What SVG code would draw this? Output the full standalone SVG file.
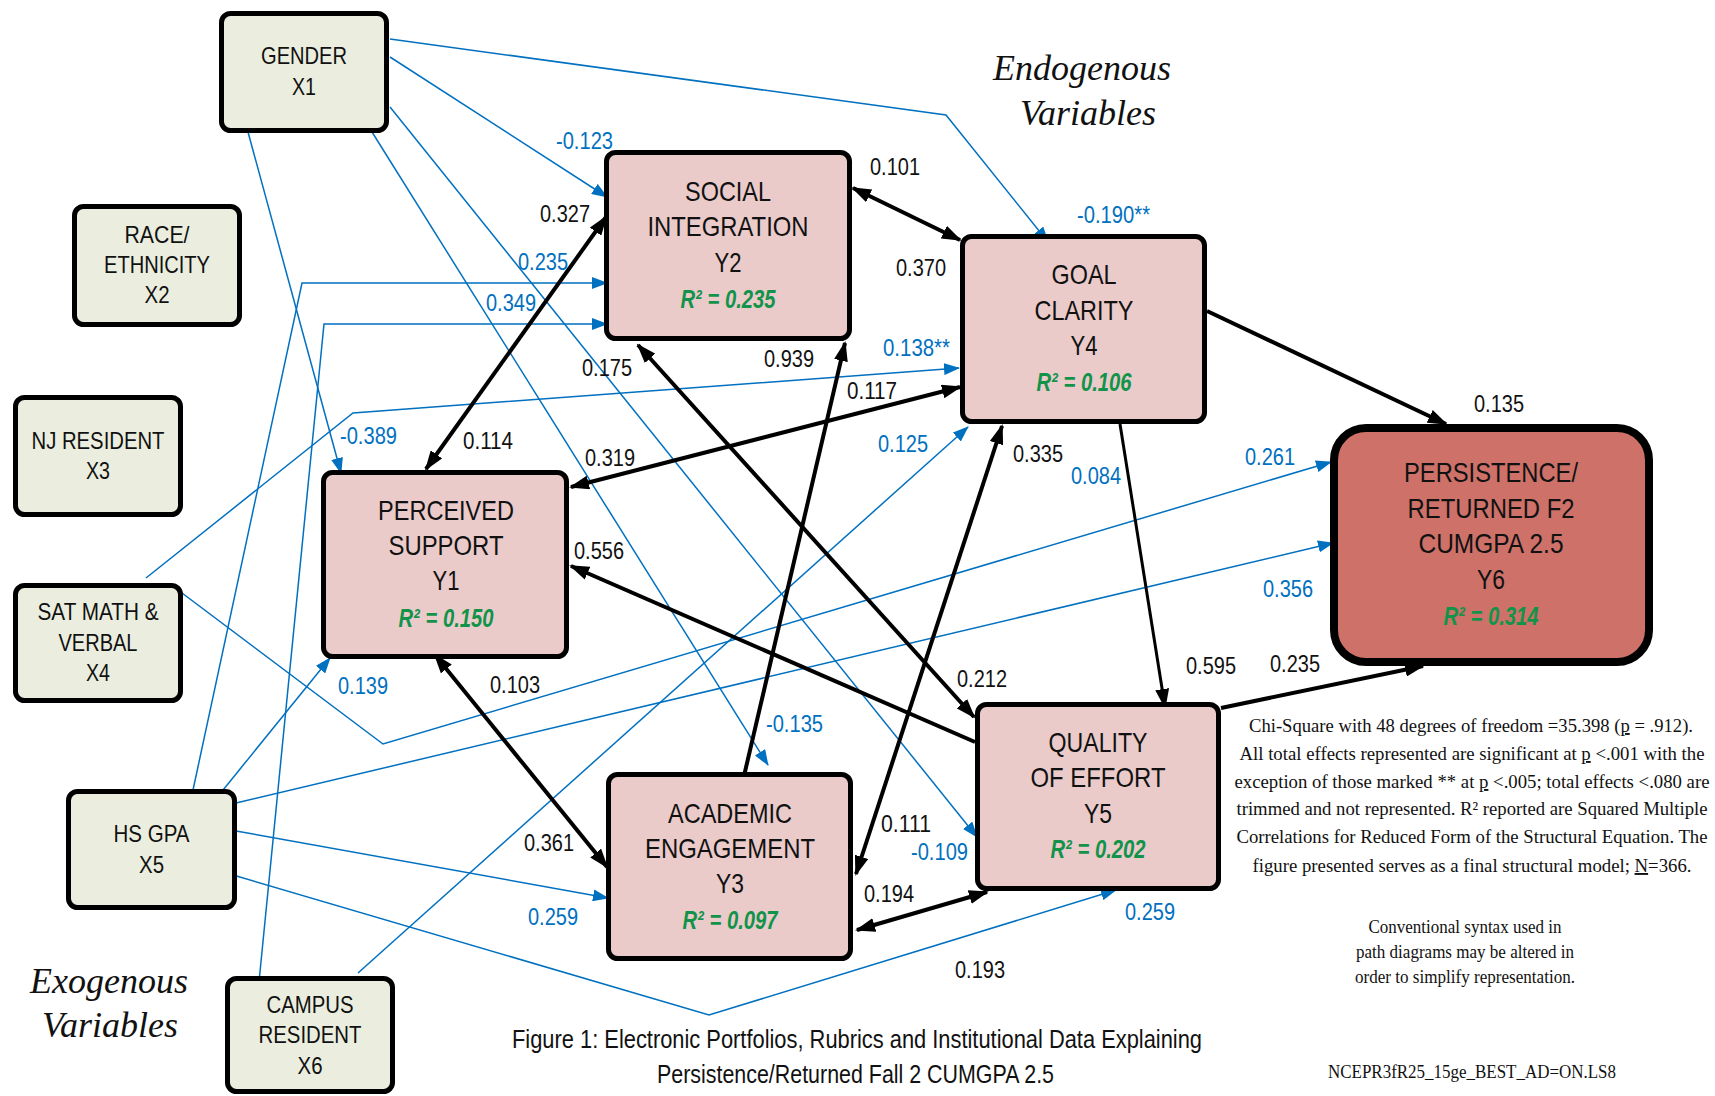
<svg xmlns="http://www.w3.org/2000/svg" width="1715" height="1096" viewBox="0 0 1715 1096">
<style>
.exo rect{fill:#EBEEDF;stroke:#000;stroke-width:5}
.endo rect{fill:#EACBCA;stroke:#000;stroke-width:5}
.out rect{fill:#CD7169;stroke:#000;stroke-width:8}
.nt{font-family:"Liberation Sans",Arial,sans-serif;text-anchor:middle;fill:#111}
.s24{font-size:24px}
.s28{font-size:28px}
.r2{font-family:"Liberation Sans",Arial,sans-serif;text-anchor:middle;fill:#12934A;font-weight:bold;font-style:italic;font-size:25px}
.lk,.lb{font-family:"Liberation Sans",Arial,sans-serif;font-size:23px}
.lk{fill:#111}
.lb{fill:#0070C0}
.blk{fill:none;stroke:#000;stroke-width:4;marker-end:url(#ak)}
.dbl{marker-start:url(#ak)}
.blu{fill:none;stroke:#0070C0;stroke-width:1.5;marker-end:url(#ab)}
.ital{font-family:"Liberation Serif","Times New Roman",serif;font-style:italic;font-size:36px;fill:#111}
.note{font-family:"Liberation Serif","Times New Roman",serif;fill:#111;text-anchor:middle}
.cap{font-family:"Liberation Sans",Arial,sans-serif;font-size:26px;fill:#111}
</style>
<defs>
<marker id="ak" viewBox="0 0 20 14" refX="18" refY="7" markerWidth="20" markerHeight="14" markerUnits="userSpaceOnUse" orient="auto-start-reverse"><path d="M0,0 L20,7 L0,14 z" fill="#000"/></marker>
<marker id="ab" viewBox="0 0 16 12" refX="15" refY="6" markerWidth="16" markerHeight="12" markerUnits="userSpaceOnUse" orient="auto"><path d="M0,0 L16,6 L0,12 z" fill="#0070C0"/></marker>
</defs>
<rect width="1715" height="1096" fill="#fff"/>

<g id="connectors">
<g id="blue-paths">
<path class="blu" d="M390,39 L946,115 L1048,242"/>
<path class="blu" d="M390,57 L607,197"/>
<path class="blu" d="M372,132 L768,765"/>
<path class="blu" d="M390,107 L977,837"/>
<path class="blu" d="M248,132 L341,473"/>
<path class="blu" d="M178,590 L383,744 L1331,462"/>
<path class="blu" d="M146,578 L353,413 L959,368"/>
<path class="blu" d="M236,803 L1333,543"/>
<path class="blu" d="M236,831 L608,898"/>
<path class="blu" d="M233,875 L709,1015 L1116,890"/>
<path class="blu" d="M219,795 L330,658"/>
<path class="blu" d="M193,790 L302,283 L607,283"/>
<path class="blu" d="M259,982 L324,324 L607,324"/>
<path class="blu" d="M358,973 L968,427"/>
</g>
<g id="black-paths">
<path class="blk dbl" d="M853,188 L960,240"/>
<path class="blk dbl" d="M606,217 L426,469"/>
<path class="blk dbl" d="M571,487 L960,387"/>
<path class="blk" d="M744,776 L845,343"/>
<path class="blk dbl" d="M638,345 L974,717"/>
<path class="blk" d="M975,742 L571,566"/>
<path class="blk" style="stroke-width:3" d="M1120,424 L1165,707"/>
<path class="blk dbl" d="M1002,426 L856,874"/>
<path class="blk dbl" d="M435,655 L607,867"/>
<path class="blk dbl" d="M857,930 L987,892"/>
<path class="blk" d="M1207,311 L1446,424"/>
<path class="blk" d="M1221,708 L1423,666"/>
</g>
<g id="labels">
<text class="lk" x="870" y="175" textLength="50" lengthAdjust="spacingAndGlyphs">0.101</text>
<text class="lk" x="896" y="276" textLength="50" lengthAdjust="spacingAndGlyphs">0.370</text>
<text class="lk" x="540" y="222" textLength="50" lengthAdjust="spacingAndGlyphs">0.327</text>
<text class="lk" x="582" y="376" textLength="50" lengthAdjust="spacingAndGlyphs">0.175</text>
<text class="lk" x="764" y="367" textLength="50" lengthAdjust="spacingAndGlyphs">0.939</text>
<text class="lk" x="847" y="399" textLength="50" lengthAdjust="spacingAndGlyphs">0.117</text>
<text class="lk" x="1013" y="462" textLength="50" lengthAdjust="spacingAndGlyphs">0.335</text>
<text class="lk" x="585" y="466" textLength="50" lengthAdjust="spacingAndGlyphs">0.319</text>
<text class="lk" x="574" y="559" textLength="50" lengthAdjust="spacingAndGlyphs">0.556</text>
<text class="lk" x="957" y="687" textLength="50" lengthAdjust="spacingAndGlyphs">0.212</text>
<text class="lk" x="1186" y="674" textLength="50" lengthAdjust="spacingAndGlyphs">0.595</text>
<text class="lk" x="463" y="449" textLength="50" lengthAdjust="spacingAndGlyphs">0.114</text>
<text class="lk" x="490" y="693" textLength="50" lengthAdjust="spacingAndGlyphs">0.103</text>
<text class="lk" x="524" y="851" textLength="50" lengthAdjust="spacingAndGlyphs">0.361</text>
<text class="lk" x="881" y="832" textLength="50" lengthAdjust="spacingAndGlyphs">0.111</text>
<text class="lk" x="864" y="902" textLength="50" lengthAdjust="spacingAndGlyphs">0.194</text>
<text class="lk" x="955" y="978" textLength="50" lengthAdjust="spacingAndGlyphs">0.193</text>
<text class="lk" x="1474" y="412" textLength="50" lengthAdjust="spacingAndGlyphs">0.135</text>
<text class="lk" x="1270" y="672" textLength="50" lengthAdjust="spacingAndGlyphs">0.235</text>
<text class="lb" x="556" y="149" textLength="57" lengthAdjust="spacingAndGlyphs">-0.123</text>
<text class="lb" x="518" y="270" textLength="50" lengthAdjust="spacingAndGlyphs">0.235</text>
<text class="lb" x="486" y="311" textLength="50" lengthAdjust="spacingAndGlyphs">0.349</text>
<text class="lb" x="1077" y="223" textLength="73" lengthAdjust="spacingAndGlyphs">-0.190**</text>
<text class="lb" x="883" y="356" textLength="67" lengthAdjust="spacingAndGlyphs">0.138**</text>
<text class="lb" x="878" y="452" textLength="50" lengthAdjust="spacingAndGlyphs">0.125</text>
<text class="lb" x="1071" y="484" textLength="50" lengthAdjust="spacingAndGlyphs">0.084</text>
<text class="lb" x="766" y="732" textLength="57" lengthAdjust="spacingAndGlyphs">-0.135</text>
<text class="lb" x="340" y="444" textLength="57" lengthAdjust="spacingAndGlyphs">-0.389</text>
<text class="lb" x="338" y="694" textLength="50" lengthAdjust="spacingAndGlyphs">0.139</text>
<text class="lb" x="528" y="925" textLength="50" lengthAdjust="spacingAndGlyphs">0.259</text>
<text class="lb" x="911" y="860" textLength="57" lengthAdjust="spacingAndGlyphs">-0.109</text>
<text class="lb" x="1125" y="920" textLength="50" lengthAdjust="spacingAndGlyphs">0.259</text>
<text class="lb" x="1245" y="465" textLength="50" lengthAdjust="spacingAndGlyphs">0.261</text>
<text class="lb" x="1263" y="597" textLength="50" lengthAdjust="spacingAndGlyphs">0.356</text>
</g>
</g>

<g id="gender" class="exo"><rect x="221.5" y="13.5" width="165" height="117" rx="9"/>
<text class="nt s24" x="304" y="64" textLength="86" lengthAdjust="spacingAndGlyphs">GENDER</text><text class="nt s24" x="304" y="95" textLength="24" lengthAdjust="spacingAndGlyphs">X1</text></g>
<g id="race" class="exo"><rect x="74.5" y="206.5" width="165" height="118" rx="9"/>
<text class="nt s24" x="157" y="243" textLength="65" lengthAdjust="spacingAndGlyphs">RACE/</text><text class="nt s24" x="157" y="273" textLength="106" lengthAdjust="spacingAndGlyphs">ETHNICITY</text><text class="nt s24" x="157" y="303" textLength="25" lengthAdjust="spacingAndGlyphs">X2</text></g>
<g id="nj" class="exo"><rect x="15.5" y="397.5" width="165" height="117" rx="9"/>
<text class="nt s24" x="98" y="449" textLength="133" lengthAdjust="spacingAndGlyphs">NJ RESIDENT</text><text class="nt s24" x="98" y="479" textLength="24" lengthAdjust="spacingAndGlyphs">X3</text></g>
<g id="sat" class="exo"><rect x="15.5" y="585.5" width="165" height="115" rx="9"/>
<text class="nt s24" x="98" y="620" textLength="121" lengthAdjust="spacingAndGlyphs">SAT MATH &amp;</text><text class="nt s24" x="98" y="651" textLength="79" lengthAdjust="spacingAndGlyphs">VERBAL</text><text class="nt s24" x="98" y="681" textLength="24" lengthAdjust="spacingAndGlyphs">X4</text></g>
<g id="hsgpa" class="exo"><rect x="68.5" y="791.5" width="166" height="116" rx="9"/>
<text class="nt s24" x="151.5" y="842" textLength="76" lengthAdjust="spacingAndGlyphs">HS GPA</text><text class="nt s24" x="151.5" y="873" textLength="25" lengthAdjust="spacingAndGlyphs">X5</text></g>
<g id="campus" class="exo"><rect x="227.5" y="978.5" width="165" height="113" rx="9"/>
<text class="nt s24" x="310" y="1013" textLength="87" lengthAdjust="spacingAndGlyphs">CAMPUS</text><text class="nt s24" x="310" y="1043" textLength="103" lengthAdjust="spacingAndGlyphs">RESIDENT</text><text class="nt s24" x="310" y="1074" textLength="25" lengthAdjust="spacingAndGlyphs">X6</text></g>

<g id="social" class="endo"><rect x="606.5" y="152.5" width="243" height="186" rx="9"/>
<text class="nt s28" x="728" y="201" textLength="86" lengthAdjust="spacingAndGlyphs">SOCIAL</text><text class="nt s28" x="728" y="236" textLength="161" lengthAdjust="spacingAndGlyphs">INTEGRATION</text><text class="nt s28" x="728" y="272" textLength="27" lengthAdjust="spacingAndGlyphs">Y2</text>
<text class="r2" x="728" y="308" textLength="95" lengthAdjust="spacingAndGlyphs">R² = 0.235</text></g>
<g id="goal" class="endo"><rect x="962.5" y="236.5" width="242" height="185" rx="9"/>
<text class="nt s28" x="1084" y="284" textLength="65" lengthAdjust="spacingAndGlyphs">GOAL</text><text class="nt s28" x="1084" y="320" textLength="99" lengthAdjust="spacingAndGlyphs">CLARITY</text><text class="nt s28" x="1084" y="355" textLength="27" lengthAdjust="spacingAndGlyphs">Y4</text>
<text class="r2" x="1084" y="391" textLength="95" lengthAdjust="spacingAndGlyphs">R² = 0.106</text></g>
<g id="perceived" class="endo"><rect x="323.5" y="472.5" width="243" height="184" rx="9"/>
<text class="nt s28" x="446" y="520" textLength="136" lengthAdjust="spacingAndGlyphs">PERCEIVED</text><text class="nt s28" x="446" y="555" textLength="115" lengthAdjust="spacingAndGlyphs">SUPPORT</text><text class="nt s28" x="446" y="590" textLength="27" lengthAdjust="spacingAndGlyphs">Y1</text>
<text class="r2" x="446" y="627" textLength="95" lengthAdjust="spacingAndGlyphs">R² = 0.150</text></g>
<g id="academic" class="endo"><rect x="608.5" y="774.5" width="242" height="184" rx="9"/>
<text class="nt s28" x="730" y="823" textLength="124" lengthAdjust="spacingAndGlyphs">ACADEMIC</text><text class="nt s28" x="730" y="858" textLength="170" lengthAdjust="spacingAndGlyphs">ENGAGEMENT</text><text class="nt s28" x="730" y="893" textLength="28" lengthAdjust="spacingAndGlyphs">Y3</text>
<text class="r2" x="730" y="929" textLength="95" lengthAdjust="spacingAndGlyphs">R² = 0.097</text></g>
<g id="quality" class="endo"><rect x="977.5" y="704.5" width="241" height="184" rx="9"/>
<text class="nt s28" x="1098" y="752" textLength="99" lengthAdjust="spacingAndGlyphs">QUALITY</text><text class="nt s28" x="1098" y="787" textLength="135" lengthAdjust="spacingAndGlyphs">OF EFFORT</text><text class="nt s28" x="1098" y="823" textLength="28" lengthAdjust="spacingAndGlyphs">Y5</text>
<text class="r2" x="1098" y="858" textLength="95" lengthAdjust="spacingAndGlyphs">R² = 0.202</text></g>
<g id="persistence" class="out"><rect x="1334" y="428" width="315" height="234" rx="32"/>
<text class="nt s28" x="1491" y="482" textLength="174" lengthAdjust="spacingAndGlyphs">PERSISTENCE/</text><text class="nt s28" x="1491" y="518" textLength="167" lengthAdjust="spacingAndGlyphs">RETURNED F2</text><text class="nt s28" x="1491" y="553" textLength="145" lengthAdjust="spacingAndGlyphs">CUMGPA 2.5</text><text class="nt s28" x="1491" y="589" textLength="28" lengthAdjust="spacingAndGlyphs">Y6</text>
<text class="r2" x="1491" y="625" textLength="95" lengthAdjust="spacingAndGlyphs">R² = 0.314</text></g>

<g id="titles">
<text class="ital" x="993" y="80">Endogenous</text>
<text class="ital" x="1020" y="125">Variables</text>
<text class="ital" x="30" y="993">Exogenous</text>
<text class="ital" x="42" y="1037">Variables</text>
<text class="cap" x="512" y="1048" textLength="690" lengthAdjust="spacingAndGlyphs">Figure 1: Electronic Portfolios, Rubrics and Institutional  Data Explaining</text>
<text class="cap" x="657" y="1083" textLength="397" lengthAdjust="spacingAndGlyphs">Persistence/Returned Fall 2 CUMGPA 2.5</text>
</g>
<g id="notes" class="note" font-size="19">
<text x="1471" y="732" textLength="444" lengthAdjust="spacingAndGlyphs">Chi-Square with 48 degrees of freedom =35.398 (<tspan text-decoration="underline">p</tspan> = .912).</text>
<text x="1472" y="760" textLength="465" lengthAdjust="spacingAndGlyphs">All total effects represented are significant at <tspan text-decoration="underline">p</tspan> &lt;.001 with the</text>
<text x="1472" y="788" textLength="475" lengthAdjust="spacingAndGlyphs">exception of those marked ** at <tspan text-decoration="underline">p</tspan> &lt;.005; total effects &lt;.080 are</text>
<text x="1472" y="815" textLength="471" lengthAdjust="spacingAndGlyphs">trimmed and not represented. R² reported are Squared Multiple</text>
<text x="1472" y="843" textLength="471" lengthAdjust="spacingAndGlyphs">Correlations for Reduced Form of the Structural Equation. The</text>
<text x="1472" y="872" textLength="439" lengthAdjust="spacingAndGlyphs">figure presented serves as a final structural model; <tspan text-decoration="underline">N</tspan>=366.</text>
<text x="1465" y="933" font-size="18" textLength="193" lengthAdjust="spacingAndGlyphs">Conventional syntax used in</text>
<text x="1465" y="958" font-size="18" textLength="218" lengthAdjust="spacingAndGlyphs">path diagrams may be altered in</text>
<text x="1465" y="983" font-size="18" textLength="220" lengthAdjust="spacingAndGlyphs">order to simplify representation.</text>
<text x="1472" y="1078" font-size="18" textLength="288" lengthAdjust="spacingAndGlyphs">NCEPR3fR25_15ge_BEST_AD=ON.LS8</text>
</g>
</svg>
